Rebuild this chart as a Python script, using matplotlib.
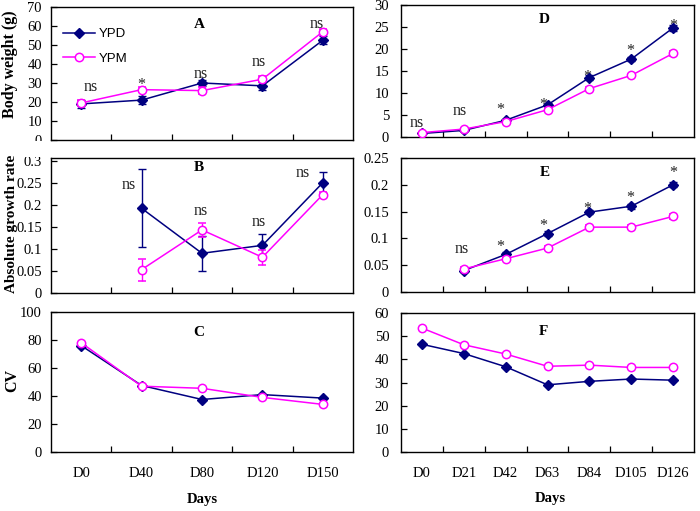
import matplotlib.pyplot as plt
import numpy as np
from matplotlib.lines import Line2D
from matplotlib.patches import Rectangle
from matplotlib.ticker import FuncFormatter

plt.rcParams['font.family'] = ['Liberation Serif', 'DejaVu Serif']

# 数据
days_left = ['D0', 'D40', 'D80', 'D120', 'D150']
days_right = ['D0', 'D21', 'D42', 'D63', 'D84', 'D105', 'D126']

# A 体重
bw_ypd = [19, 21, 30, 28.5, 52.5]
bw_ypd_err = [2, 2, 1.5, 2, 2]
bw_ypm = [19.5, 26.5, 26, 32, 57]
bw_ypm_err = [1.5, 1.5, 2, 1.5, 1.5]
bw_sig = ['ns', '*', 'ns', 'ns', 'ns']

# B 绝对生长率
agr_ypd = [np.nan, 0.192, 0.09, 0.108, 0.25]
agr_ypd_err = [np.nan, 0.088, 0.04, 0.025, 0.024]
agr_ypm = [np.nan, 0.053, 0.143, 0.081, 0.223]
agr_ypm_err = [np.nan, 0.025, 0.016, 0.017, 0.005]
agr_sig = ['ns', 'ns', 'ns', 'ns']

# C 变异系数
cv_ypd = [76, 47.5, 37.5, 41, 38.5]
cv_ypm = [78, 47, 45.5, 39, 34]

# D 体重
bw2_ypd = [0.8, 1.5, 3.8, 7.3, 13.5, 17.7, 24.8]
bw2_ypd_err = [0.2, 0.2, 0.3, 0.4, 0.5, 0.5, 0.6]
bw2_ypm = [1.0, 1.8, 3.5, 6.2, 11.0, 14.0, 19.0]
bw2_ypm_err = [0.2, 0.2, 0.3, 0.3, 0.4, 0.4, 0.5]
bw2_sig = ['ns', 'ns', '*', '*', '*', '*', '*']

# E 绝对生长率
agr2_ypd = [np.nan, 0.040, 0.070, 0.109, 0.149, 0.160, 0.200]
agr2_ypd_err = [np.nan, 0.003, 0.004, 0.004, 0.004, 0.005, 0.005]
agr2_ypm = [np.nan, 0.043, 0.062, 0.082, 0.121, 0.121, 0.141]
agr2_ypm_err = [np.nan, 0.003, 0.003, 0.003, 0.004, 0.004, 0.004]
agr2_sig = ['ns', '*', '*', '*', '*', '*']

# F 变异系数
cv2_ypd = [46.5, 42.5, 36.8, 29, 30.5, 31.5, 31]
cv2_ypm = [53.5, 46.3, 42.3, 37, 37.5, 36.5, 36.5]

NAVY = '#000080'
MAG = '#FF00FF'


def draw(ax, ypd, ypm, ypd_err=None, ypm_err=None):
    """画两条折线及误差线"""
    x = np.arange(len(ypd))
    ax.errorbar(x, ypd, yerr=ypd_err, color=NAVY, marker='D', ms=5, mfc=NAVY,
                mec=NAVY, lw=1.1, capsize=3, elinewidth=1, zorder=3)
    ax.errorbar(x, ypm, yerr=ypm_err, color=MAG, marker='o', ms=6, mfc='white',
                mec=MAG, mew=1.1, lw=1.1, capsize=3, elinewidth=1, zorder=4)


def style(ax, labels, ymax, ystep, ytop=None, bottom=False, pad=6.5):
    """坐标轴样式"""
    n = len(labels)
    ax.set_xlim(-0.5, n - 0.5)
    ax.set_xticks(np.arange(0.5, n - 1))
    ax.set_xticklabels([])
    if bottom:
        ax.set_xticks(np.arange(n), minor=True)
        ax.set_xticklabels(labels, minor=True, fontsize=10.5)
        ax.tick_params(axis='x', which='minor', length=0, pad=11)
    ax.set_ylim(0, ytop if ytop else ymax)
    ax.set_yticks(np.arange(0, ymax + ystep / 2, ystep))
    ax.yaxis.set_major_formatter(FuncFormatter(lambda v, p: f'{v:g}'))
    ax.tick_params(which='major', direction='in', length=4, width=0.9,
                   labelsize=10.5)
    ax.tick_params(axis='y', pad=pad)
    for s in ax.spines.values():
        s.set_linewidth(1.0)


def sig(ax, xs, ys, texts):
    for x, y, t in zip(xs, ys, texts):
        off = -4 if t == '*' else 0
        ax.annotate(t, (x, y), xytext=(0, off), textcoords='offset points',
                    ha='center', va='center', fontsize=11.5, color='#222222')


fig = plt.figure(figsize=(7, 5.11), dpi=100)
W, H = 700, 511


def add_ax(x0, x1, y0, y1):
    return fig.add_axes([x0 / W, 1 - y1 / H, (x1 - x0) / W, (y1 - y0) / H])


axA = add_ax(51, 353, 7, 140)
axB = add_ax(51, 353, 158, 293)
axC = add_ax(51, 353, 312, 452)
axD = add_ax(401, 694, 5, 137)
axE = add_ax(401, 694, 158, 292)
axF = add_ax(401, 694, 313, 452)

draw(axA, bw_ypd, bw_ypm, bw_ypd_err, bw_ypm_err)
draw(axB, agr_ypd, agr_ypm, agr_ypd_err, agr_ypm_err)
draw(axC, cv_ypd, cv_ypm)
draw(axD, bw2_ypd, bw2_ypm, bw2_ypd_err, bw2_ypm_err)
draw(axE, agr2_ypd, agr2_ypm, agr2_ypd_err, agr2_ypm_err)
draw(axF, cv2_ypd, cv2_ypm)

style(axA, days_left, 70, 10)
style(axB, days_left, 0.3, 0.05, ytop=0.306)
style(axC, days_left, 100, 20, bottom=True)
style(axD, days_right, 30, 5, pad=8.5)
style(axE, days_right, 0.25, 0.05, pad=8.5)
style(axF, days_right, 60, 10, bottom=True, pad=8.5)

# 显著性标记
sig(axA, [0.15, 0.99, 1.98, 2.94, 3.9], [27.9, 32, 34.7, 41, 61], bw_sig)
sig(axB, [0.79, 1.98, 2.94, 3.66], [0.244, 0.185, 0.160, 0.271], agr_sig)
sig(axD, [-0.12, 0.91, 1.87, 2.9, 3.94, 4.97, 6.0],
    [3.2, 5.9, 7.5, 8.6, 15, 20.9, 26.6], bw2_sig)
sig(axE, [0.96, 1.87, 2.9, 3.94, 4.97, 6.0],
    [0.081, 0.094, 0.133, 0.165, 0.185, 0.233], agr2_sig)

# 面板字母
for ax, t, x, y in [(axA, 'A', 0.49, 0.872), (axB, 'B', 0.49, 0.926),
                    (axC, 'C', 0.49, 0.857), (axD, 'D', 0.49, 0.89),
                    (axE, 'E', 0.49, 0.89), (axF, 'F', 0.485, 0.87)]:
    ax.text(x, y, t, transform=ax.transAxes, ha='center', va='center',
            fontsize=11, fontweight='bold')

axA.set_ylabel('Body weight (g)', fontsize=11.5, fontweight='bold')
axA.yaxis.set_label_coords(-0.108, 0.568)
axB.set_ylabel('Absolute growth rate', fontsize=11, fontweight='bold')
axB.yaxis.set_label_coords(-0.108, 0.51)
axC.set_ylabel('CV', fontsize=11.5, fontweight='bold')
axC.yaxis.set_label_coords(-0.103, 0.514)

axC.set_xlabel('Days', fontsize=10.5, fontweight='bold')
axC.xaxis.set_label_coords(0.5, -0.29)
axF.set_xlabel('Days', fontsize=10.5, fontweight='bold')
axF.xaxis.set_label_coords(0.508, -0.29)

# 图例
handles = [Line2D([], [], color=NAVY, marker='D', ms=5, lw=1.1),
           Line2D([], [], color=MAG, marker='o', ms=6, mfc='white', mew=1.1, lw=1.1)]
axA.legend(handles, ['YPD', 'YPM'], loc='upper left', bbox_to_anchor=(0.0, 0.93),
           frameon=False, prop={'family': 'Liberation Sans', 'size': 9.5},
           handlelength=2.4, labelspacing=0.9, handletextpad=0.3)

# A 的 0 刻度被 B 区域遮住一半
fig.patches.append(Rectangle((20 / W, 1 - 157 / H), 30 / W, 16 / H,
                             transform=fig.transFigure, facecolor='white',
                             edgecolor='none', zorder=10))

fig.savefig('out.png', dpi=100)
